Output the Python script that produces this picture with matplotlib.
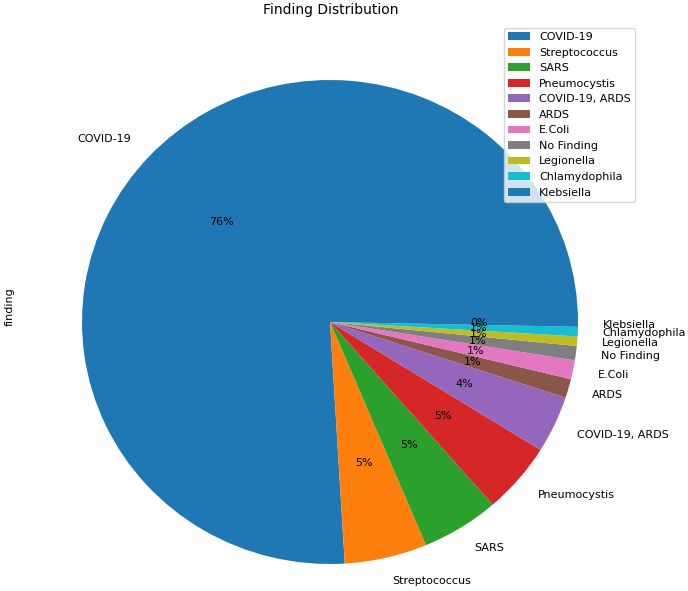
import matplotlib

matplotlib.use("Agg")
import matplotlib.pyplot as plt

# finding counts (order as value_counts)
findings = [
    "COVID-19", "Streptococcus", "SARS", "Pneumocystis", "COVID-19, ARDS",
    "ARDS", "E.Coli", "No Finding", "Legionella", "Chlamydophila", "Klebsiella",
]
counts = [240, 17, 16, 15, 12, 4, 4, 3, 2, 2, 1]

colors = plt.rcParams["axes.prop_cycle"].by_key()["color"]
colors = [colors[i % len(colors)] for i in range(len(findings))]

W, H = 688, 591
fig = plt.figure(figsize=(W / 100, H / 100), dpi=100)

# axes placed in pixels: pie centre (330, 322), radius 248 px wide, 242 px tall
left, right, top, bottom = 20, 641, 22, 591
ax = fig.add_axes([left / W, (H - bottom) / H, (right - left) / W, (bottom - top) / H])

wedges, texts, autotexts = ax.pie(
    counts, labels=findings, colors=colors, autopct="%.0f%%",
    textprops={"fontsize": 8},
)
ax.set_aspect("auto")
cx, cy, rx, ry = 330, 322, 248, 242
ax.set_xlim((left - cx) / rx, (right - cx) / rx)
ax.set_ylim(-(bottom - cy) / ry, (cy - top) / ry)

ax.set_title("Finding Distribution", fontsize=10)
ax.set_ylabel("finding", fontsize=8)
ax.legend(wedges, findings, loc="upper right", fontsize=8)

fig.savefig("out.png", dpi=100)
